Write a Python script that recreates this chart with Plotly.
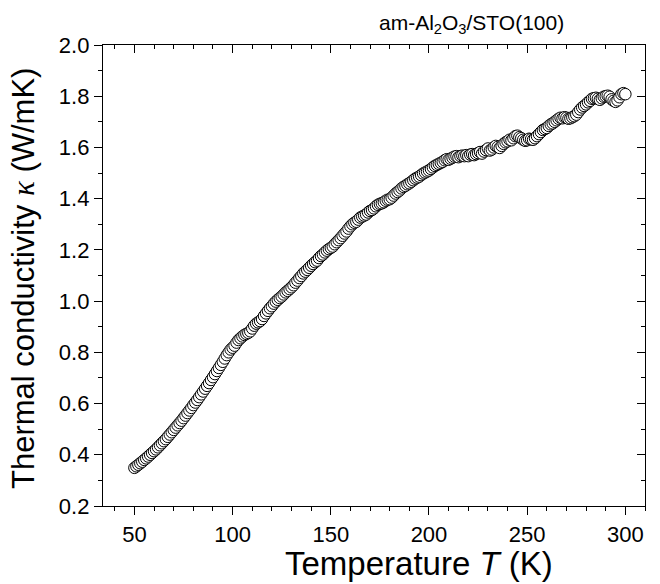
import plotly.graph_objects as go

temperature_K = list(range(50, 301))

kappa_W_mK = [
    0.349, 0.355, 0.361, 0.367, 0.373, 0.380, 0.386, 0.393, 0.400, 0.407,
    0.414, 0.421, 0.429, 0.437, 0.445, 0.453, 0.461, 0.470, 0.479, 0.488,
    0.497, 0.506, 0.515, 0.524, 0.533, 0.543, 0.553, 0.563, 0.573, 0.583,
    0.594, 0.604, 0.614, 0.625, 0.636, 0.647, 0.658, 0.669, 0.680, 0.692,
    0.703, 0.715, 0.727, 0.739, 0.751, 0.763, 0.776, 0.789, 0.800, 0.811,
    0.818, 0.826, 0.838, 0.848, 0.855, 0.862, 0.868, 0.872, 0.876, 0.882,
    0.893, 0.904, 0.912, 0.917, 0.922, 0.930, 0.942, 0.952, 0.962, 0.972,
    0.980, 0.990, 0.998, 1.005, 1.012, 1.018, 1.026, 1.034, 1.040, 1.047,
    1.054, 1.062, 1.072, 1.080, 1.090, 1.098, 1.108, 1.115, 1.122, 1.130,
    1.138, 1.145, 1.152, 1.158, 1.168, 1.176, 1.182, 1.190, 1.197, 1.203,
    1.208, 1.213, 1.222, 1.230, 1.238, 1.246, 1.255, 1.264, 1.272, 1.283,
    1.292, 1.300, 1.306, 1.310, 1.318, 1.326, 1.330, 1.334, 1.338, 1.346,
    1.352, 1.356, 1.362, 1.370, 1.376, 1.380, 1.382, 1.386, 1.392, 1.396,
    1.398, 1.404, 1.412, 1.420, 1.426, 1.432, 1.440, 1.446, 1.450, 1.456,
    1.460, 1.466, 1.472, 1.478, 1.482, 1.486, 1.492, 1.498, 1.502, 1.506,
    1.510, 1.516, 1.522, 1.528, 1.532, 1.536, 1.540, 1.544, 1.550, 1.554,
    1.552, 1.556, 1.560, 1.564, 1.566, 1.562, 1.566, 1.568, 1.566, 1.570,
    1.566, 1.572, 1.574, 1.570, 1.574, 1.578, 1.582, 1.576, 1.584, 1.590,
    1.596, 1.588, 1.592, 1.600, 1.606, 1.602, 1.598, 1.606, 1.614, 1.620,
    1.624, 1.630, 1.628, 1.636, 1.644, 1.646, 1.640, 1.636, 1.630, 1.626,
    1.628, 1.634, 1.632, 1.630, 1.636, 1.644, 1.652, 1.660, 1.668, 1.672,
    1.676, 1.684, 1.690, 1.694, 1.700, 1.706, 1.712, 1.716, 1.714, 1.718,
    1.716, 1.712, 1.714, 1.718, 1.722, 1.728, 1.738, 1.748, 1.756, 1.762,
    1.768, 1.776, 1.782, 1.790, 1.792, 1.794, 1.790, 1.786, 1.792, 1.798,
    1.800, 1.802, 1.798, 1.788, 1.782, 1.778, 1.784, 1.796, 1.808, 1.812,
    1.808,
]

x_tick_values = [50, 100, 150, 200, 250, 300]
y_tick_values = [0.2, 0.4, 0.6, 0.8, 1.0, 1.2, 1.4, 1.6, 1.8, 2.0]
y_tick_labels = ["0.2", "0.4", "0.6", "0.8", "1.0", "1.2", "1.4", "1.6", "1.8", "2.0"]

title_text = "am-Al<sub>2</sub>O<sub>3</sub>/STO(100)"
x_title = "Temperature <i>T</i> (K)"
y_title = ("Thermal conductivity <span style=\"font-family:'Liberation Serif'\"><i>κ</i></span> (W/mK)")

W, H = 660, 584
L, R, T, B = 103, 15, 45, 78
PW, PH = W - L - R, H - T - B
X_RANGE = [34, 310]
Y_RANGE = [0.2, 2.0]
FONT = "Liberation Sans, Arial, sans-serif"


def px_to_paper_x(px):
    return (px - L) / PW


def px_to_paper_y(py):
    return (H - B - py) / PH


fig = go.Figure()
fig.add_trace(go.Scatter(
    x=temperature_K, y=kappa_W_mK, mode="markers",
    marker=dict(symbol="circle", size=11.5, color="white",
                line=dict(color="black", width=1)),
    showlegend=False,
))
# empty trace to activate mirrored top/right axes with inward ticks
fig.add_trace(go.Scatter(x=[], y=[], xaxis="x2", yaxis="y2", showlegend=False))

axis_common = dict(showline=True, linecolor="black", linewidth=1.3,
                   showgrid=False, zeroline=False, tickcolor="black",
                   tickwidth=1.3)

fig.update_layout(
    width=W, height=H,
    paper_bgcolor="white", plot_bgcolor="white",
    margin=dict(l=L, r=R, t=T, b=B),
    font=dict(family=FONT, color="black"),
    xaxis=dict(**axis_common, range=X_RANGE, tickmode="array",
               tickvals=x_tick_values, ticks="outside", ticklen=8,
               tickfont=dict(size=22),
               minor=dict(dtick=10, tick0=0, ticks="outside", ticklen=4,
                          tickcolor="black", tickwidth=1.3)),
    yaxis=dict(**axis_common, range=Y_RANGE, tickmode="array",
               tickvals=y_tick_values, ticktext=y_tick_labels,
               ticks="outside", ticklen=8, tickfont=dict(size=22),
               minor=dict(dtick=0.1, tick0=0, ticks="outside", ticklen=4,
                          tickcolor="black", tickwidth=1.3)),
    xaxis2=dict(**axis_common, range=X_RANGE, overlaying="x", side="top",
                tickmode="array", tickvals=x_tick_values, ticks="inside",
                ticklen=8, showticklabels=False,
                minor=dict(dtick=10, tick0=0, ticks="inside", ticklen=4,
                           tickcolor="black", tickwidth=1.3)),
    yaxis2=dict(**axis_common, range=Y_RANGE, overlaying="y", side="right",
                tickmode="array", tickvals=y_tick_values, ticks="inside",
                ticklen=8, showticklabels=False,
                minor=dict(dtick=0.1, tick0=0, ticks="inside", ticklen=4,
                           tickcolor="black", tickwidth=1.3)),
    annotations=[
        dict(text=title_text, xref="paper", yref="paper",
             x=px_to_paper_x(471), y=px_to_paper_y(24),
             xanchor="center", yanchor="middle", showarrow=False,
             font=dict(size=21, family=FONT)),
        dict(text=x_title, xref="paper", yref="paper",
             x=px_to_paper_x(419), y=px_to_paper_y(563),
             xanchor="center", yanchor="middle", showarrow=False,
             font=dict(size=33, family=FONT)),
        dict(text=y_title, xref="paper", yref="paper",
             x=px_to_paper_x(23), y=px_to_paper_y(279),
             xanchor="center", yanchor="middle", showarrow=False,
             textangle=-90, font=dict(size=31, family=FONT)),
    ],
)

fig.write_html("out.html", config={"displayModeBar": False},
               post_script="document.body.style.margin='0';")
